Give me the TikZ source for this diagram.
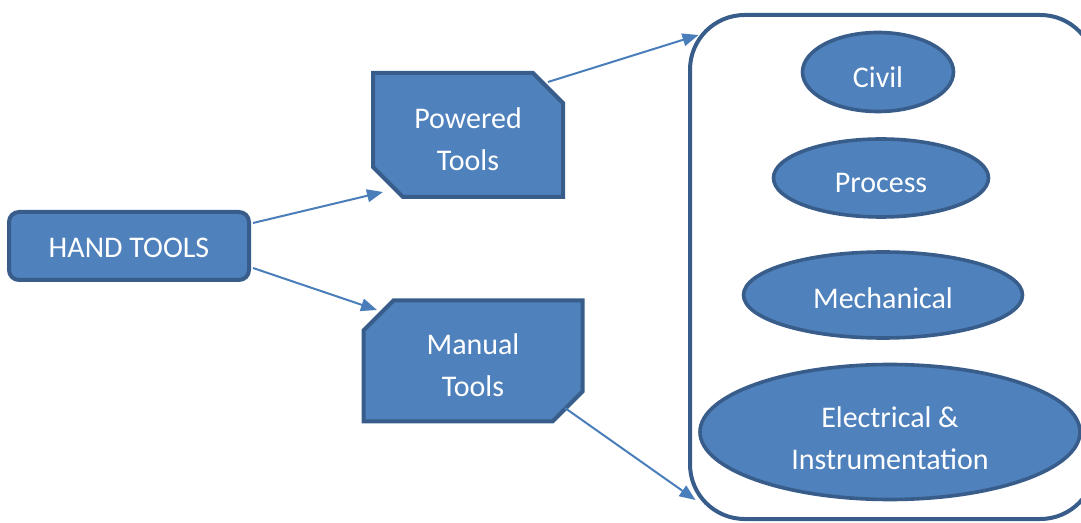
\documentclass[tikz,border=0pt]{standalone}
\usepackage{fontspec}
\setmainfont{Carlito}
\usetikzlibrary{shapes.misc,shapes.geometric,arrows.meta,calc}
\definecolor{shfill}{HTML}{4F81BD}
\definecolor{shdraw}{HTML}{385D8A}
\definecolor{arr}{HTML}{4A7EBB}
\begin{document}
\begin{tikzpicture}[x=0.75pt,y=-0.75pt,
  lbl/.style={text=white,font=\fontsize{22.5}{31.5}\selectfont,align=center,inner sep=0pt},
  boxshape/.style={lbl,draw=shdraw,fill=shfill,line width=3pt},
  snip/.style={boxshape,chamfered rectangle,chamfered rectangle xsep=15pt,chamfered rectangle ysep=7.5pt},
  oval/.style={boxshape,ellipse,line width=2.7pt},
  conn/.style={draw=arr,line width=1.5pt,-{Triangle[length=12pt,width=9.5pt]}}]
\useasboundingbox (0,0) rectangle (1081,523);
\clip (0,0) rectangle (1081,523);
\node[boxshape,rounded corners=7.5pt,minimum width=180pt,minimum height=51pt] (hand) at (129,246) {};
\node[lbl] (handt) at ($(hand.center)+(0,2)$) {HAND TOOLS};
\node[snip,chamfered rectangle corners={north east,south west},minimum width=142.5pt,minimum height=93pt] (pow) at (468,135) {\phantom{Powered}\\\phantom{Tools}};
\node[lbl] (powt) at ($(pow.center)+(0,4)$) {Powered\\Tools};
\node[snip,chamfered rectangle corners={north west,south east},minimum width=164.25pt,minimum height=90.75pt] (man) at (473,361) {\phantom{Manual}\\\phantom{Tools}};
\node[lbl] (mant) at ($(man.center)+(0,4)$) {Manual\\Tools};
\node[draw=shdraw,line width=3pt,fill=white,rounded corners=41pt,minimum width=303.75pt,minimum height=378pt,inner sep=0pt] (grp) at (892.5,267) {};
\node[oval,minimum width=113.25pt,minimum height=59.25pt] (civ) at (878,72) {};
\node[lbl] (civt) at ($(civ.center)+(0,5)$) {Civil};
\node[oval,minimum width=161.25pt,minimum height=58.5pt] (proc) at (881,178) {};
\node[lbl] (proct) at ($(proc.center)+(0,5)$) {Process};
\node[oval,minimum width=209.25pt,minimum height=64.5pt] (mech) at (883,295) {};
\node[lbl] (mecht) at ($(mech.center)+(0,3)$) {Mechanical};
\node[oval,minimum width=285pt,minimum height=101.25pt] (elec) at (890,432) {};
\node[lbl] (elect) at ($(elec.center)+(0,6)$) {Electrical \&\\Instrumentation};
\coordinate (powin) at ($(pow.center)+(-85,57)$);
\coordinate (manin) at ($(man.center)+(-96,-51)$);
\coordinate (grpin1) at ($(grp.center)+(-194,-232)$);
\coordinate (grpin2) at ($(grp.center)+(-197,233)$);
\draw[conn] ($(hand.east)+(2,-23)$) -- (powin);
\draw[conn] ($(hand.east)+(2,22)$) -- (manin);
\draw[conn] ($(pow.center)+(80,-53)$) -- (grpin1);
\draw[conn] ($(man.center)+(92,47)$) -- (grpin2);
\end{tikzpicture}
\end{document}
